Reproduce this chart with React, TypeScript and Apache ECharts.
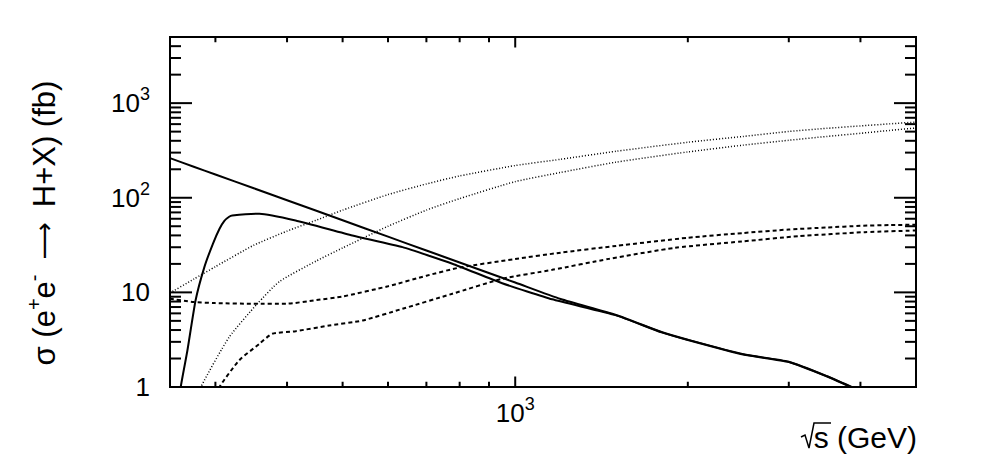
import React, { useEffect, useRef } from "react";
import * as echarts from "echarts";

// Axis ranges
const X_MIN = 250;
const X_MAX = 5000;
const Y_MIN = 1;
const Y_MAX = 5000;

// Tick positions (sqrt(s) in GeV, sigma in fb)
const xTicksMinor = [300, 400, 500, 600, 700, 800, 900, 2000, 3000, 4000];
const xTicksMajor = [1000];
const yTicksMinor = [2, 3, 4, 5, 6, 7, 8, 9, 20, 30, 40, 50, 60, 70, 80, 90, 200, 300, 400, 500, 600, 700, 800, 900, 2000, 3000, 4000];
const yTicksMajor = [10, 100, 1000];

// Higgsstrahlung, light Higgs (solid, falling)
const zhLightS = [250, 275, 300, 350, 400, 450, 500, 600, 700, 800, 1000, 1200, 1500, 1800, 2000, 2500, 3000, 3500, 4000];
const zhLightSigma = [262, 213, 176, 126, 94.2, 72.8, 57.8, 38.8, 27.7, 20.7, 12.7, 8.5, 5.77, 3.81, 3.16, 2.22, 1.85, 1.3, 0.91];

// Higgsstrahlung, heavy Higgs (solid, with threshold)
const zhHeavyS = [255, 261, 268, 277, 287, 297, 305, 311, 317, 321, 358, 414, 520, 636, 777, 949, 1160, 1500, 1800, 2000, 2500, 3000, 3500, 4000];
const zhHeavySigma = [0.3, 1.0, 2.4, 8.2, 18.5, 32.6, 47, 57, 63, 65, 67.8, 57.5, 39.9, 30.1, 20.1, 12.5, 8.45, 5.72, 3.78, 3.14, 2.2, 1.84, 1.29, 0.9];

// WW fusion, light Higgs (dotted, upper)
const wwLightS = [250, 275, 300, 350, 400, 450, 500, 600, 700, 800, 1000, 1200, 1500, 2000, 2500, 3000, 3500, 4000, 4500, 5000];
const wwLightSigma = [9.86, 13.8, 18.7, 31.5, 44.4, 58, 74, 108, 140, 170, 219, 255, 310, 386, 445, 502, 542, 575, 604, 631];

// WW fusion, heavy Higgs (dotted, lower)
const wwHeavyS = [275, 283, 317, 355, 388, 450, 500, 600, 700, 800, 1000, 1200, 1500, 2000, 2500, 3000, 3500, 4000, 4500, 5000];
const wwHeavySigma = [0.6, 1.0, 3.36, 7.58, 13.0, 21.5, 29.5, 50, 74, 98, 148, 185, 238, 305, 360, 405, 445, 480, 515, 546];

// ZZ fusion, light Higgs (dashed, upper)
const zzLightS = [250, 275, 300, 350, 400, 450, 500, 600, 700, 800, 1000, 1200, 1500, 2000, 2500, 3000, 3500, 4000, 4500, 5000];
const zzLightSigma = [8.55, 7.92, 7.7, 7.58, 7.6, 8.3, 9.05, 11.6, 15, 18.3, 22.5, 26.3, 31, 37.8, 42.4, 46.2, 48.5, 50.5, 51.5, 51.8];

// ZZ fusion, heavy Higgs (dashed, lower)
const zzHeavyS = [295, 305, 330, 358, 377, 414, 474, 542, 636, 777, 949, 1160, 1457, 1901, 2485, 3121, 4073, 5000];
const zzHeavySigma = [0.6, 1.0, 1.91, 2.86, 3.65, 3.89, 4.47, 5.05, 6.71, 9.67, 13.9, 17.3, 22.6, 29.6, 34.5, 39.3, 43.3, 45.1];

const FONT = '"Liberation Sans", Arial, Helvetica, sans-serif';

const pairs = (xs: number[], ys: number[]) => xs.map((x, i) => [x, ys[i]]);

const powRich = {
  b: { fontSize: 26, fontFamily: FONT, color: "#000", lineHeight: 36 },
  s: { fontSize: 18, fontFamily: FONT, color: "#000", verticalAlign: "top", lineHeight: 18 },
};

function isPow(v: number) {
  const e = Math.log10(v);
  const r = Math.round(e);
  return Math.abs(e - r) < 1e-6 ? r : null;
}

export default function App() {
  const ref = useRef<HTMLDivElement>(null);
  useEffect(() => {
    const chart = echarts.init(ref.current!, null, { renderer: "svg", width: 996, height: 472 });

    const tickData = [
      ...xTicksMinor.map((v) => [v, Y_MIN, 0]),
      ...xTicksMajor.map((v) => [v, Y_MIN, 1]),
      ...yTicksMinor.map((v) => [X_MIN, v, 2]),
      ...yTicksMajor.map((v) => [X_MIN, v, 3]),
    ];

    const line = (name: string, data: number[][], type: any, width: number, smooth: number | boolean) => ({
      name,
      type: "line",
      data,
      showSymbol: false,
      symbol: "none",
      smooth,
      clip: true,
      silent: true,
      lineStyle: { color: "#000", width, type },
      z: 3,
    });

    chart.setOption({
      animation: false,
      backgroundColor: "#fff",
      grid: {
        left: 170,
        top: 37,
        width: 746,
        height: 350,
        show: true,
        borderColor: "#000",
        borderWidth: 2,
        backgroundColor: "transparent",
        containLabel: false,
        outerBoundsMode: "none",
      },
      xAxis: {
        type: "log",
        logBase: 10,
        min: X_MIN,
        max: X_MAX,
        axisLine: { show: false },
        axisTick: { show: false },
        splitLine: { show: false },
        minorTick: { show: false },
        axisLabel: {
          margin: 8,
          color: "#000",
          fontFamily: FONT,
          fontSize: 26,
          formatter: (v: number) => {
            const e = isPow(v);
            return e === 3 ? "{b|10}{s|3}" : "";
          },
          rich: powRich,
        },
      },
      yAxis: {
        type: "log",
        logBase: 10,
        min: Y_MIN,
        max: Y_MAX,
        axisLine: { show: false },
        axisTick: { show: false },
        splitLine: { show: false },
        minorTick: { show: false },
        axisLabel: {
          margin: 20,
          color: "#000",
          fontFamily: FONT,
          fontSize: 26,
          formatter: (v: number) => {
            const e = isPow(v);
            if (e === null) return "";
            if (e === 0) return "1";
            if (e === 1) return "10";
            return "{b|10}{s|" + e + "}";
          },
          rich: powRich,
        },
      },
      series: [
        line("ZH light", pairs(zhLightS, zhLightSigma), "solid", 2, 0.2),
        line("ZH heavy", pairs(zhHeavyS, zhHeavySigma), "solid", 2, 0.15),
        line("WW light", pairs(wwLightS, wwLightSigma), [1, 2], 1.5, 0.2),
        line("WW heavy", pairs(wwHeavyS, wwHeavySigma), [1, 2], 1.5, 0.2),
        line("ZZ light", pairs(zzLightS, zzLightSigma), [4, 3], 2, 0.2),
        line("ZZ heavy", pairs(zzHeavyS, zzHeavySigma), [4, 3], 2, 0.2),
        {
          type: "custom",
          name: "ticks",
          silent: true,
          z: 5,
          data: tickData,
          renderItem: (params: any, api: any) => {
            const cs = params.coordSys;
            const kind = api.value(2);
            const p = api.coord([api.value(0), api.value(1)]);
            const left = cs.x;
            const right = cs.x + cs.width;
            const top = cs.y;
            const bottom = cs.y + cs.height;
            const style = { stroke: "#000", lineWidth: 2 };
            if (kind < 2) {
              const L = kind === 1 ? 10.5 : 5.25;
              return {
                type: "group",
                children: [
                  { type: "line", shape: { x1: p[0], y1: bottom, x2: p[0], y2: bottom - L }, style },
                  { type: "line", shape: { x1: p[0], y1: top, x2: p[0], y2: top + L }, style },
                ],
              };
            }
            const L = kind === 3 ? 22 : 11;
            return {
              type: "group",
              children: [
                { type: "line", shape: { x1: left, y1: p[1], x2: left + L, y2: p[1] }, style },
                { type: "line", shape: { x1: right, y1: p[1], x2: right - L, y2: p[1] }, style },
              ],
            };
          },
        },
      ],
      graphic: [
        {
          type: "text",
          x: 44,
          y: 223,
          rotation: Math.PI / 2,
          style: {
            text: "{t|σ (e}{u|+}{t|e}{u|-}{a|⟶}{t|H+X) (fb)}",
            align: "center",
            verticalAlign: "middle",
            fill: "#000",
            rich: {
              t: { fontSize: 31, fontFamily: FONT, fill: "#000", lineHeight: 40 },
              u: { fontSize: 20, fontFamily: FONT, fill: "#000", verticalAlign: "top", lineHeight: 20 },
              a: { fontSize: 26, fontFamily: '"DejaVu Sans", sans-serif', fill: "#000", lineHeight: 40, padding: [0, 15, 0, 15] },
            },
          },
        },
        {
          type: "text",
          x: 917,
          y: 437,
          style: {
            text: "s (GeV)",
            align: "right",
            verticalAlign: "middle",
            fill: "#000",
            fontSize: 30,
            fontFamily: FONT,
          },
        },
        {
          type: "polyline",
          shape: { points: [[801, 437], [805, 435], [809, 448], [814, 423], [831, 423]] },
          style: { stroke: "#000", lineWidth: 1.5, fill: "none" },
        },
      ],
    });
    return () => chart.dispose();
  }, []);
  return <div ref={ref} style={{ position: "fixed", left: 0, top: 0, width: 996, height: 472 }} />;
}
